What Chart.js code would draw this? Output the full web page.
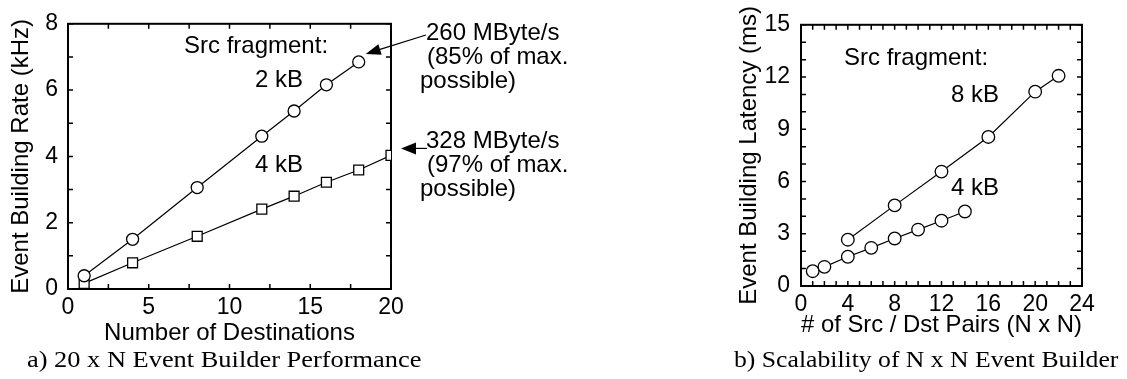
<!DOCTYPE html>
<html>
<head>
<meta charset="utf-8">
<script src="https://cdn.jsdelivr.net/npm/chart.js@4.4.0/dist/chart.umd.min.js"></script>
<style>
  body { margin: 0; background: #fff; }
  #wrap { position: relative; width: 1127px; height: 379px; overflow: hidden; }
  .cv { position: absolute; top: 0; }
  .cap { position: absolute; font-family: 'Liberation Serif', 'Times New Roman', serif; font-size: 24px;
         line-height: 24px; white-space: nowrap; transform-origin: left; color: #000; }
</style>
</head>
<body>
<div id="wrap">
  <div class="cv" style="left:0"><canvas id="c1" width="700" height="379"></canvas></div>
  <div class="cv" style="left:700px"><canvas id="c2" width="427" height="379"></canvas></div>
  <div class="cap" style="left:27px;top:347px;transform:scaleX(1.1)">a) 20 x N Event Builder Performance</div>
  <div class="cap" style="left:734px;top:347px;transform:scaleX(1.07)">b) Scalability of N x N Event Builder</div>
</div>
<script>
// a) 20 x N: tasa vs numero de destinos
const destinos2kB = [1, 4, 8, 12, 14, 16, 18];
const tasa2kB = [0.40, 1.50, 3.06, 4.61, 5.37, 6.16, 6.85];
const destinos4kB = [1, 4, 8, 12, 14, 16, 18, 20];
const tasa4kB = [0.17, 0.79, 1.59, 2.41, 2.80, 3.22, 3.59, 4.03];
const ticksTasa = [0, 2, 4, 6, 8];
const ticksDestinos = [0, 5, 10, 15, 20];

// b) N x N: latencia vs pares
const pares8kB = [4, 8, 12, 16, 20, 22];
const latencia8kB = [2.66, 4.63, 6.57, 8.56, 11.16, 12.07];
const pares4kB = [1, 2, 4, 6, 8, 10, 12, 14];
const latencia4kB = [0.85, 1.10, 1.68, 2.19, 2.73, 3.24, 3.75, 4.28];
const ticksLatencia = [0, 3, 6, 9, 12, 15];
const ticksPares = [0, 4, 8, 12, 16, 20, 24];

const SANS = "'Liberation Sans', Arial, Helvetica, sans-serif";
Chart.defaults.color = '#000';
Chart.defaults.font.family = SANS;

function puntos(xs, ys) {
  return xs.map((x, i) => ({ x: x, y: ys[i] }));
}

function serie(xs, ys, estilo, r) {
  return {
    data: puntos(xs, ys), showLine: true, borderColor: '#000', borderWidth: 1.2,
    pointStyle: estilo, pointRadius: r, pointHoverRadius: r,
    pointBackgroundColor: '#fff', pointBorderColor: '#000', pointBorderWidth: 1.3
  };
}

function eje(pos, min, max, paso, etiquetas, tam, pad, titulo, tituloPad) {
  const horiz = pos === 'top' || pos === 'bottom';
  return {
    type: 'linear', position: pos, min: min, max: max,
    afterFit: s => { if (horiz) s.height = tam; else s.width = tam; },
    grid: { display: false, drawTicks: false },
    border: { display: false },
    ticks: {
      stepSize: paso, autoSkip: false, maxRotation: 0, padding: pad,
      font: { size: 23 },
      callback: v => etiquetas.includes(v) ? v : ''
    },
    title: { display: true, text: titulo, font: { size: 24 }, padding: tituloPad }
  };
}

// marco y marcas hacia dentro en los cuatro lados
const marco = {
  id: 'marco',
  beforeDatasetsDraw(chart) {
    const ctx = chart.ctx, a = chart.chartArea, sx = chart.scales.x, sy = chart.scales.y;
    ctx.save();
    ctx.strokeStyle = '#000';
    ctx.lineWidth = 1.5;
    ctx.beginPath();
    sx.ticks.forEach(t => {
      const px = sx.getPixelForValue(t.value);
      ctx.moveTo(px, a.bottom); ctx.lineTo(px, a.bottom - 5);
      ctx.moveTo(px, a.top); ctx.lineTo(px, a.top + 5);
    });
    sy.ticks.forEach(t => {
      const py = sy.getPixelForValue(t.value);
      ctx.moveTo(a.left, py); ctx.lineTo(a.left + 5, py);
      ctx.moveTo(a.right, py); ctx.lineTo(a.right - 5, py);
    });
    ctx.stroke();
    ctx.lineWidth = 2;
    ctx.strokeRect(a.left, a.top, a.right - a.left, a.bottom - a.top);
    ctx.restore();
  }
};

function flecha(ctx, x0, y0, x1, y1, largo, medio) {
  const a = Math.atan2(y1 - y0, x1 - x0);
  const bx = x1 - largo * Math.cos(a), by = y1 - largo * Math.sin(a);
  ctx.beginPath(); ctx.moveTo(x0, y0); ctx.lineTo(bx, by); ctx.stroke();
  ctx.beginPath(); ctx.moveTo(x1, y1);
  ctx.lineTo(bx + medio * Math.sin(a), by - medio * Math.cos(a));
  ctx.lineTo(bx - medio * Math.sin(a), by + medio * Math.cos(a));
  ctx.closePath(); ctx.fill();
}

const notas1 = {
  id: 'notas1',
  afterDraw(chart) {
    const ctx = chart.ctx, sx = chart.scales.x, sy = chart.scales.y;
    ctx.save();
    ctx.fillStyle = '#000'; ctx.strokeStyle = '#000'; ctx.lineWidth = 1.2;
    ctx.font = '24px ' + SANS;
    ctx.fillText('Src fragment:', 184, 53);
    ctx.fillText('2 kB', 255, 87);
    ctx.fillText('4 kB', 255, 172);

    // flechas hacia el ultimo punto de cada serie
    const n1 = destinos2kB.length - 1, n2 = destinos4kB.length - 1;
    const p1x = sx.getPixelForValue(destinos2kB[n1]), p1y = sy.getPixelForValue(tasa2kB[n1]);
    const p2x = sx.getPixelForValue(destinos4kB[n2]), p2y = sy.getPixelForValue(tasa4kB[n2]);
    flecha(ctx, 426, 35, p1x + 7, p1y - 8, 15, 5.5);
    flecha(ctx, 427, p2y - 7, p2x + 10, p2y - 7, 15, 6);

    ctx.fillText('260 MByte/s', 426, 40);
    ctx.fillText('(85% of max.', 427, 64);
    ctx.fillText('possible)', 420, 88);
    ctx.fillText('328 MByte/s', 426, 148);
    ctx.fillText('(97% of max.', 427, 172);
    ctx.fillText('possible)', 420, 196);
    ctx.restore();
  }
};

const notas2 = {
  id: 'notas2',
  afterDraw(chart) {
    const ctx = chart.ctx;
    ctx.save();
    ctx.fillStyle = '#000';
    ctx.font = '24px ' + SANS;
    ctx.fillText('Src fragment:', 144, 65);
    ctx.fillText('8 kB', 251, 102);
    ctx.fillText('4 kB', 251, 195);
    ctx.restore();
  }
};

new Chart(document.getElementById('c1'), {
  type: 'scatter',
  data: {
    datasets: [
      serie(destinos2kB, tasa2kB, 'circle', 6),
      serie(destinos4kB, tasa4kB, 'rect', 7)
    ]
  },
  options: {
    responsive: false, animation: false,
    layout: { padding: { left: 0, top: 13, right: 309, bottom: 0 } },
    plugins: { legend: { display: false }, tooltip: { enabled: false } },
    scales: {
      x: eje('bottom', 0, 20, 2.5, ticksDestinos, 90, 5, 'Number of Destinations', { top: 0, bottom: 31 }),
      y: eje('left', 0, 8, 1, ticksTasa, 68, 10, 'Event Building Rate (kHz)', { top: 7, bottom: 0 })
    }
  },
  plugins: [marco, notas1]
});

new Chart(document.getElementById('c2'), {
  type: 'scatter',
  data: {
    datasets: [
      serie(pares8kB, latencia8kB, 'circle', 6.3),
      serie(pares4kB, latencia4kB, 'circle', 6.3)
    ]
  },
  options: {
    responsive: false, animation: false,
    layout: { padding: { left: 0, top: 12, right: 45, bottom: 0 } },
    plugins: { legend: { display: false }, tooltip: { enabled: false } },
    scales: {
      x: eje('bottom', 0, 24, 1, ticksPares, 93, 5, '# of Src / Dst Pairs (N x N)', { top: 0, bottom: 39 }),
      y: eje('left', 0, 15, 1, ticksLatencia, 101, 11, 'Event Building Latency (ms)', { top: 35, bottom: 0 })
    }
  },
  plugins: [marco, notas2]
});
</script>
</body>
</html>
